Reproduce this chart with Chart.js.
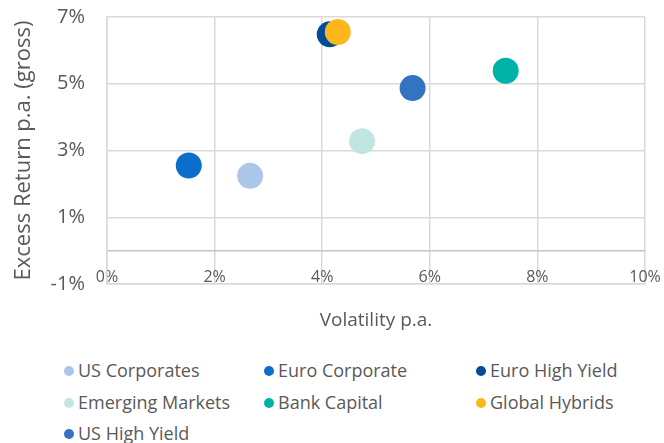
<!DOCTYPE html>
<html>
<head>
<meta charset="utf-8">
<title>Excess return vs volatility</title>
<script src="https://cdn.jsdelivr.net/npm/chart.js@4.4.1/dist/chart.umd.min.js"></script>
<style>
  html, body { margin: 0; padding: 0; background: #fff; }
  #wrap { position: relative; width: 664px; height: 443px; font-family: "Open Sans", sans-serif; color: #595959; }
  #chart { position: absolute; left: 0; top: 0; }
  .lg-item { position: absolute; height: 24px; line-height: 24px; font-size: 18px; white-space: nowrap; }
  .lg-dot { display: inline-block; width: 10px; height: 10px; border-radius: 50%; vertical-align: middle; margin-top: -3px; }
  .lg-txt { margin-left: 4px; }
</style>
</head>
<body>
<div id="wrap">
  <canvas id="chart" width="664" height="345"></canvas>
  <div id="legend"></div>
</div>
<script>
// data
var seriesNames = ['US Corporates', 'Euro Corporate', 'Euro High Yield', 'Emerging Markets', 'Bank Capital', 'Global Hybrids', 'US High Yield'];
var volatility = [2.66, 1.52, 4.14, 4.74, 7.41, 4.29, 5.68];   // % p.a.
var excessReturn = [2.24, 2.55, 6.48, 3.28, 5.39, 6.55, 4.87]; // % p.a. (gross)
var xTicks = [0, 2, 4, 6, 8, 10];
var yTicks = [-1, 1, 3, 5, 7];

var seriesColors = ['#aac6e8', '#0a6fcc', '#024d95', '#c1e6e2', '#00b3a9', '#fdb71c', '#3472c2'];
var textColor = '#595959';
var gridColor = '#d9d9d9';

Chart.defaults.font.family = '"Open Sans", sans-serif';
Chart.defaults.color = textColor;

var datasets = [];
for (var i = 0; i < seriesNames.length; i++) {
  datasets.push({
    label: seriesNames[i],
    data: [{ x: volatility[i], y: excessReturn[i] }],
    backgroundColor: seriesColors[i],
    borderWidth: 0,
    pointRadius: 13,
    pointHoverRadius: 13,
    // yellow sits on top of the navy one
    order: seriesNames[i] == 'Global Hybrids' ? 0 : 1
  });
}

var pct = function (v) { return v + '%'; };
// tick padding would otherwise be added to the chart area margins
var noPad = function (s) { s.paddingTop = 0; s.paddingBottom = 0; s.paddingLeft = 0; s.paddingRight = 0; };

var myChart = new Chart(document.getElementById('chart'), {
  type: 'scatter',
  data: { datasets: datasets },
  options: {
    responsive: false,
    animation: false,
    layout: { padding: { top: 17, right: 19, bottom: 0, left: 0 } },
    plugins: {
      legend: { display: false },
      tooltip: {
        callbacks: {
          label: function (ctx) { return ctx.dataset.label + ': ' + ctx.parsed.x + '%, ' + ctx.parsed.y + '%'; }
        }
      }
    },
    scales: {
      x: {
        type: 'linear',
        position: { y: 0 },
        min: xTicks[0],
        max: xTicks[xTicks.length - 1],
        afterBuildTicks: function (s) { s.ticks = xTicks.map(function (v) { return { value: v }; }); },
        grid: { color: gridColor, lineWidth: 1.5, drawTicks: false },
        border: { color: '#c4c4c4', width: 1.5 },
        ticks: { padding: 17, font: { size: 16 }, callback: pct },
        afterFit: noPad
      },
      // bottom edge of the plot + axis title
      x2: {
        type: 'linear',
        position: 'bottom',
        min: xTicks[0],
        max: xTicks[xTicks.length - 1],
        grid: { display: false, drawTicks: false },
        border: { color: gridColor, width: 1.5 },
        ticks: { display: false },
        title: { display: true, text: 'Volatility p.a.', font: { size: 19 }, padding: { top: 0, bottom: 13 } },
        afterFit: function (s) { noPad(s); s.height = 61; }
      },
      y: {
        type: 'linear',
        position: 'left',
        min: yTicks[0],
        max: yTicks[yTicks.length - 1],
        afterBuildTicks: function (s) { s.ticks = yTicks.map(function (v) { return { value: v }; }); },
        grid: { color: gridColor, lineWidth: 1.5, drawTicks: false },
        border: { color: gridColor, width: 1.5 },
        ticks: { padding: 22, font: { size: 20 }, callback: pct },
        title: { display: true, text: 'Excess Return p.a. (gross)', font: { size: 22 }, padding: { top: 11, bottom: 0 } },
        afterFit: function (s) { noPad(s); s.width = 107; }
      }
    }
  }
});

// legend in three columns like the original
var colX = [69, 269, 481];
var rowY = [370, 402, 433];
var legend = document.getElementById('legend');
for (var k = 0; k < seriesNames.length; k++) {
  var item = document.createElement('div');
  item.className = 'lg-item';
  item.style.left = (colX[k % 3] - 5) + 'px';
  item.style.top = (rowY[Math.floor(k / 3)] - 12) + 'px';
  var dot = document.createElement('span');
  dot.className = 'lg-dot';
  dot.style.background = seriesColors[k];
  var txt = document.createElement('span');
  txt.className = 'lg-txt';
  txt.textContent = seriesNames[k];
  item.appendChild(dot);
  item.appendChild(txt);
  legend.appendChild(item);
}
</script>
</body>
</html>
